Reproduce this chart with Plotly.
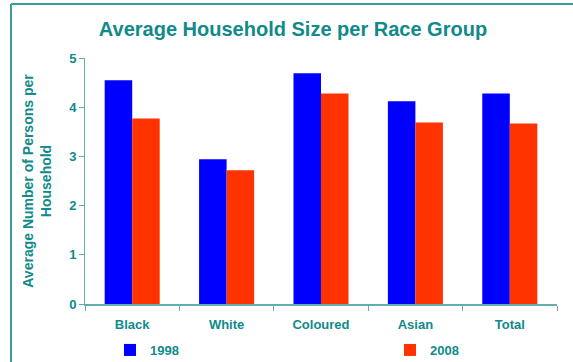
import plotly.graph_objects as go

categories = ["Black", "White", "Coloured", "Asian", "Total"]
values_1998 = [4.55, 2.94, 4.69, 4.12, 4.28]
values_2008 = [3.77, 2.72, 4.28, 3.69, 3.67]
y_ticks = [0, 1, 2, 3, 4, 5]

TEAL = "#108a8a"
AXIS = "#62aeae"
FONT = "Liberation Sans"

W, H = 573, 362
L, R, T, B = 85, 16, 58, 58
pw, ph = W - L - R, H - T - B

def px2x(px):
    return (px - L) / pw

def py2y(py):
    return (H - B - py) / ph

fig = go.Figure()
fig.add_trace(go.Bar(x=categories, y=values_1998, name="1998", marker_color="#0000FF",
                     marker_line_width=0, legend="legend"))
fig.add_trace(go.Bar(x=categories, y=values_2008, name="2008", marker_color="#FF3300",
                     marker_line_width=0, legend="legend2"))

legend_font = dict(size=13, color=TEAL, family=FONT, weight="bold")

fig.update_layout(
    width=W, height=H,
    margin=dict(l=L, r=R, t=T, b=B),
    paper_bgcolor="white", plot_bgcolor="white",
    barmode="group", bargap=0.417, bargroupgap=0,
    font=dict(family=FONT, color=TEAL),
    title=dict(text="Average Household Size per Race Group",
               x=293 / W, xanchor="center", y=1 - 29 / H, yanchor="middle",
               font=dict(size=20, color=TEAL, family=FONT, weight="bold")),
    xaxis=dict(showline=True, linecolor=AXIS, linewidth=2, tickson="boundaries",
               ticks="outside", ticklen=5, tickcolor=AXIS, tickwidth=1, tickangle=0,
               ticklabelstandoff=7,
               tickfont=dict(size=13, color=TEAL, family=FONT, weight="bold"),
               showgrid=False, automargin=False),
    yaxis=dict(range=[0, 5], tickvals=y_ticks, showline=True, linecolor=AXIS, linewidth=1,
               ticks="outside", ticklen=5, tickcolor=AXIS, showgrid=False, zeroline=False,
               tickfont=dict(size=13, color=TEAL, family=FONT, weight="bold"),
               automargin=False,
               title=dict(text="Average Number of Persons per<br>Household",
                          font=dict(size=14, color=TEAL, family=FONT, weight="bold"),
                          standoff=14)),
    legend=dict(xref="paper", yref="container", x=px2x(110), y=1 - 350 / H,
                xanchor="left", yanchor="middle",
                font=legend_font, bgcolor="rgba(0,0,0,0)"),
    legend2=dict(xref="paper", yref="container", x=px2x(390), y=1 - 350 / H,
                 xanchor="left", yanchor="middle",
                 font=legend_font, bgcolor="rgba(0,0,0,0)"),
    showlegend=True,
)

# frame border (top and left, as in reference)
fig.add_shape(type="line", xref="paper", yref="paper", x0=px2x(11), x1=px2x(580),
              y0=py2y(4), y1=py2y(4), line=dict(color="#3a9c9c", width=2))
fig.add_shape(type="line", xref="paper", yref="paper", x0=px2x(11), x1=px2x(11),
              y0=py2y(4), y1=py2y(370), line=dict(color="#3a9c9c", width=2))

fig.write_html("out.html")
